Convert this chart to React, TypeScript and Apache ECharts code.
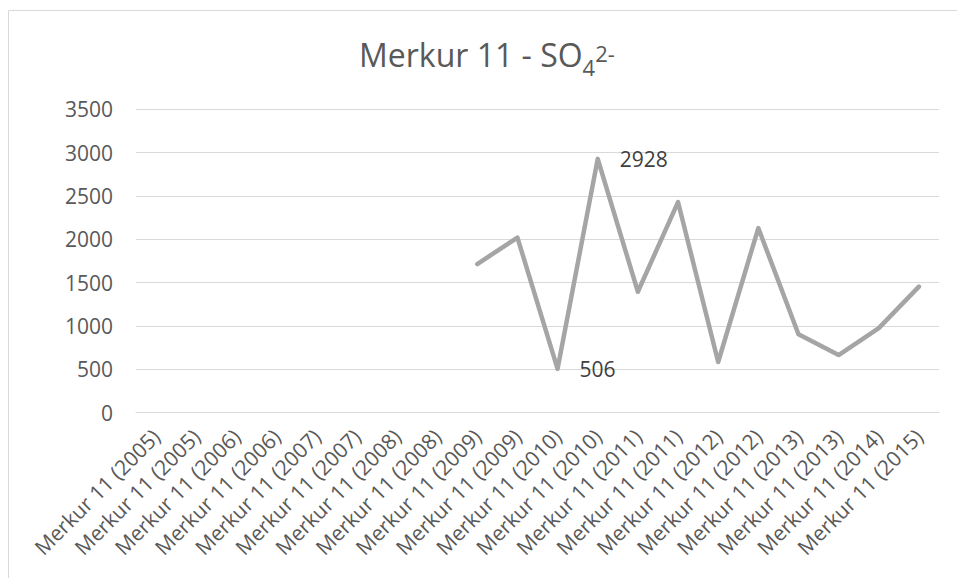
import React, { useEffect, useRef } from "react";
import * as echarts from "echarts";

const categories: string[] = [
  "Merkur 11 (2005)", "Merkur 11 (2005)", "Merkur 11 (2006)", "Merkur 11 (2006)",
  "Merkur 11 (2007)", "Merkur 11 (2007)", "Merkur 11 (2008)", "Merkur 11 (2008)",
  "Merkur 11 (2009)", "Merkur 11 (2009)", "Merkur 11 (2010)", "Merkur 11 (2010)",
  "Merkur 11 (2011)", "Merkur 11 (2011)", "Merkur 11 (2012)", "Merkur 11 (2012)",
  "Merkur 11 (2013)", "Merkur 11 (2013)", "Merkur 11 (2014)", "Merkur 11 (2015)",
];

const so4Values: (number | null)[] = [
  null, null, null, null, null, null, null, null,
  1715, 2020, 506, 2928, 1395, 2430, 585, 2130, 905, 665, 975, 1455,
];

const labelledIndices: number[] = [10, 11];

const yMin = 0;
const yMax = 3500;
const yInterval = 500;

const FONT = "'Open Sans', 'Noto Sans', sans-serif";

export default function App() {
  const ref = useRef<HTMLDivElement>(null);

  useEffect(() => {
    if (!ref.current) return;
    const chart = echarts.init(ref.current, undefined, { renderer: "svg" });
    chart.setOption({
      animation: false,
      backgroundColor: "#ffffff",
      title: {
        left: 359,
        top: 34,
        padding: 0,
        text: "{m|Merkur 11 - SO}{sub|4}{sup|2-}",
        textStyle: {
          fontWeight: "normal",
          rich: {
            m: { fontFamily: FONT, fontSize: 32, fontWeight: "normal", color: "#595959", lineHeight: 40 },
            sub: { fontFamily: FONT, fontSize: 22, fontWeight: "normal", color: "#595959", lineHeight: 14, padding: [26, 0, 0, 0] },
            sup: { fontFamily: FONT, fontSize: 22, fontWeight: "normal", color: "#595959", lineHeight: 14, padding: [0, 0, 2, 0] },
          },
        },
      },
      graphic: [
        {
          type: "polyline",
          silent: true,
          shape: { points: [[8.5, 578], [8.5, 10.5], [957, 10.5]] },
          style: { stroke: "#d9d9d9", lineWidth: 1, fill: "none" },
        },
      ],
      grid: { left: 136, right: 18, top: 109.3, bottom: 165.3, containLabel: false },
      xAxis: {
        type: "category",
        data: categories,
        boundaryGap: true,
        axisLine: { show: true, lineStyle: { color: "#d9d9d9", width: 1 } },
        axisTick: { show: false },
        axisLabel: {
          interval: 0,
          rotate: 45,
          margin: 20,
          fontFamily: FONT,
          fontSize: 21,
          color: "#595959",
        },
      },
      yAxis: {
        type: "value",
        min: yMin,
        max: yMax,
        interval: yInterval,
        axisLine: { show: false },
        axisTick: { show: false },
        splitLine: { show: true, lineStyle: { color: "#d9d9d9", width: 1 } },
        axisLabel: {
          margin: 23,
          fontFamily: FONT,
          fontSize: 21,
          color: "#595959",
          formatter: (v: number) => String(v),
        },
      },
      series: [
        {
          type: "line",
          data: so4Values.map((v, i) =>
            labelledIndices.includes(i)
              ? { value: v, label: { show: true } }
              : v
          ),
          symbol: "circle",
          symbolSize: 0,
          showSymbol: true,
          connectNulls: false,
          lineStyle: { color: "#a5a5a5", width: 4.5, cap: "round", join: "round" },
          itemStyle: { color: "#a5a5a5" },
          label: {
            show: false,
            position: "right",
            distance: 22,
            fontFamily: FONT,
            fontSize: 21,
            color: "#404040",
          },
          emphasis: { disabled: true },
        },
      ],
    });
    return () => chart.dispose();
  }, []);

  return (
    <div
      ref={ref}
      style={{ position: "fixed", left: 0, top: 0, width: 957, height: 578 }}
    />
  );
}
